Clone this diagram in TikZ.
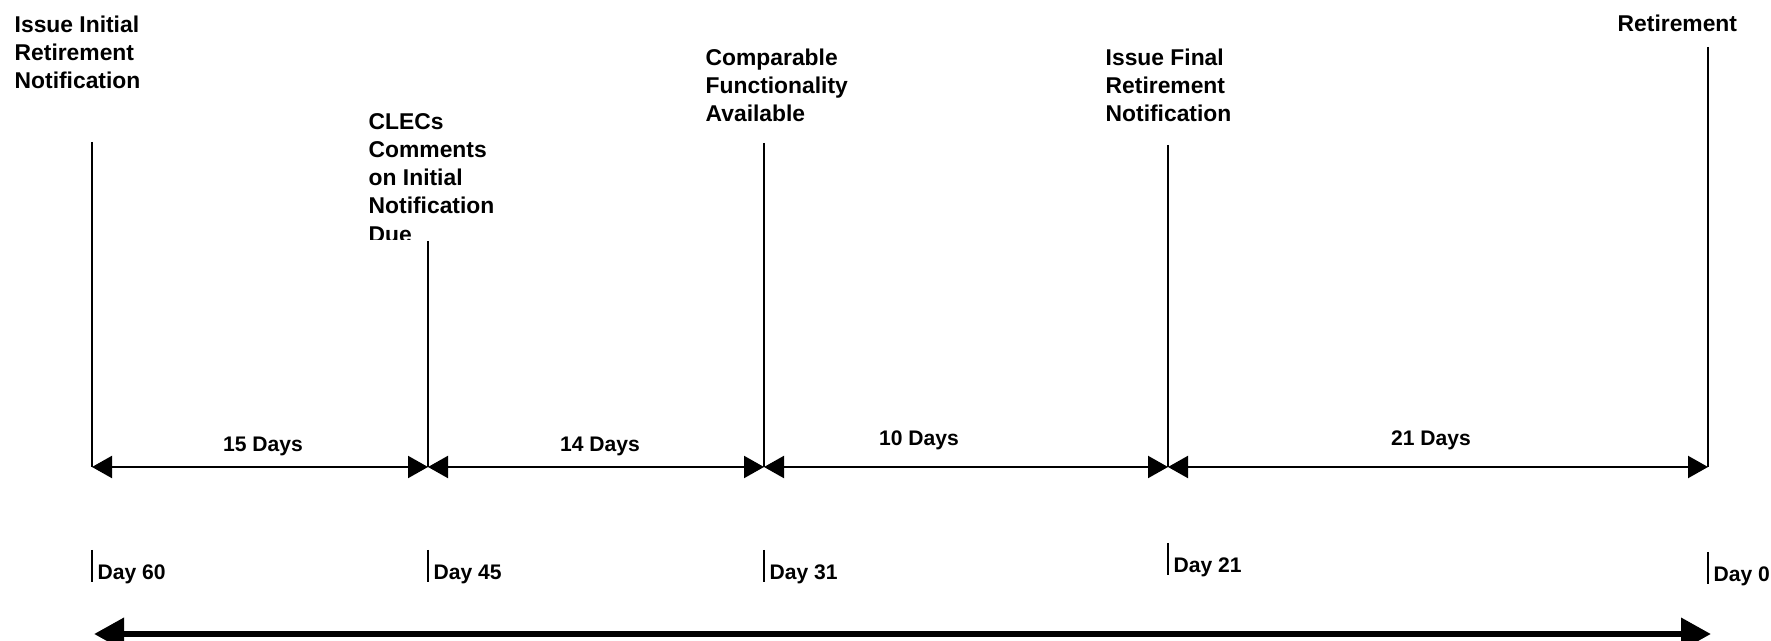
\documentclass[tikz,border=0pt]{standalone}
\usepackage{fontspec}
\setmainfont{Liberation Sans}
\usetikzlibrary{arrows.meta}
\begin{document}
\begin{tikzpicture}[
    x=0.1mm, y=-0.1mm,
    mark line/.style={line width=0.45pt},
    span/.style={{Triangle[length=2mm,width=2.2mm]}-{Triangle[length=2mm,width=2.2mm]}, line width=0.6pt},
    tickline/.style={line width=0.45pt},
    timeline/.style={{Triangle[length=3mm,width=3.1mm]}-{Triangle[length=3mm,width=3.1mm]}, line width=1.9pt},
    event/.style={align=left, anchor=north west, inner sep=0pt, font=\fontsize{6.5}{8}\selectfont\bfseries},
    days/.style={inner sep=0pt, font=\fontsize{6}{7}\selectfont\bfseries},
    dayno/.style={anchor=west, inner sep=0pt, font=\fontsize{6}{7}\selectfont\bfseries}
]
\useasboundingbox (0,0) rectangle (1771,641);

% milestone lines
\foreach \d/\x/\t in {60/92/142, 45/428/241, 31/764/143, 21/1168/145, 0/1708/47}{
   \coordinate (top\d) at (\x,\t);
   \coordinate (bot\d) at (\x,467);
   \draw[mark line] (top\d) -- (bot\d);
}

% events
\node[event] (ev60) at (14,15) {Issue Initial\\Retirement\\Notification};
\begin{scope}
  \clip (300,0) rectangle (600,240);
  \node[event] (ev45) at (368,113) {CLECs\\Comments\\on Initial\\Notification\\Due};
\end{scope}
\node[event] (ev31) at (705,48) {Comparable\\Functionality\\Available};
\node[event] (ev21) at (1105,48) {Issue Final\\Retirement\\Notification};
\node[event] (ev0) at (1617,14) {Retirement};

% spans
\draw[span] (bot60) -- (bot45);
\draw[span] (bot45) -- (bot31);
\draw[span] (bot31) -- (bot21);
\draw[span] (bot21) -- (bot0);

\node[days] (sp1) at (263,446) {15 Days};
\node[days] (sp2) at (600,446) {14 Days};
\node[days] (sp3) at (919,440) {10 Days};
\node[days] (sp4) at (1431,440) {21 Days};

% day marks
\foreach \d/\x/\t in {60/92/550, 45/428/550, 31/764/550, 21/1168/543, 0/1708/552}{
   \coordinate (tk\d) at (\x,\t);
   \coordinate (tb\d) at (\x,\t+32);
   \draw[tickline] (tk\d) -- (tb\d);
   \node[dayno] (day\d) at (\x+5,\t+24) {Day \d};
}

\coordinate (tstart) at (94,634);
\coordinate (tend) at (1711,634);
\draw[timeline] (tstart) -- (tend);

\end{tikzpicture}
\end{document}
